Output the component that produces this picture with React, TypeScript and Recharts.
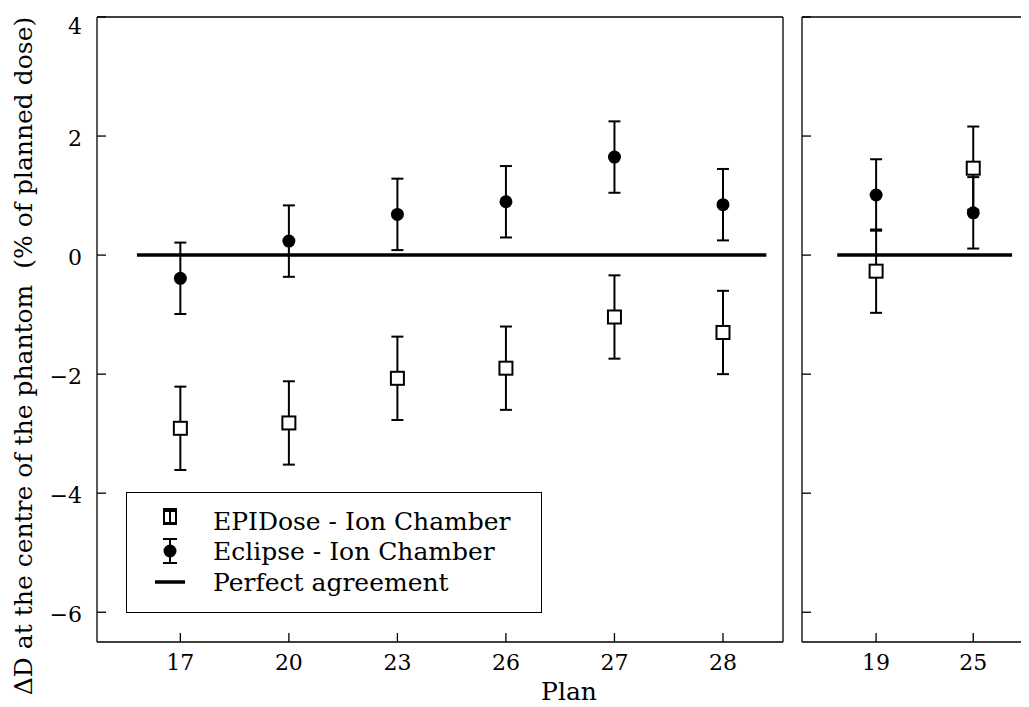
import React from 'react';
import {
  ComposedChart,
  Scatter,
  ErrorBar,
  Line,
  XAxis,
  YAxis,
  ReferenceLine,
  Legend,
  Label,
} from 'recharts';

// ---------- data ----------
const leftPlans = ['17', '20', '23', '26', '27', '28'];
const leftEpidose = [-2.91, -2.82, -2.07, -1.9, -1.04, -1.3];
const leftEpidoseErr = [0.7, 0.7, 0.7, 0.7, 0.7, 0.7];
const leftEclipse = [-0.39, 0.235, 0.684, 0.896, 1.647, 0.847];
const leftEclipseErr = [0.6, 0.6, 0.6, 0.6, 0.6, 0.6];

const rightPlans = ['19', '25'];
const rightEpidose = [-0.27, 1.46];
const rightEpidoseErr = [0.7, 0.7];
const rightEclipse = [1.01, 0.71];
const rightEclipseErr = [0.6, 0.6];

const agreementValue = 0;
const leftAgreementSpan = [-0.4, 5.4];
const rightAgreementSpan = [-0.4, 1.4];

const yTicks = [-6, -4, -2, 0, 2, 4];
const yDomain: [number, number] = [-6.5, 4];
const leftXDomain: [number, number] = [-0.768, 5.553];
const rightXDomain: [number, number] = [-0.763, 1.574];

const legendLabels = ['EPIDose - Ion Chamber', 'Eclipse - Ion Chamber', 'Perfect agreement'];
const yTitle = 'ΔD at the centre of the phantom  (% of planned dose)';
const xTitle = 'Plan';

// ---------- build rows ----------
const rows = (vals: number[], errs: number[]) => vals.map((v, i) => ({ x: i, y: v, err: errs[i] }));
const lineRows = (span: number[]) => span.map((s) => ({ x: s, y: agreementValue }));

const leftEpiRows = rows(leftEpidose, leftEpidoseErr);
const leftEclRows = rows(leftEclipse, leftEclipseErr);
const rightEpiRows = rows(rightEpidose, rightEpidoseErr);
const rightEclRows = rows(rightEclipse, rightEclipseErr);
const leftLine = lineRows(leftAgreementSpan);
const rightLine = lineRows(rightAgreementSpan);

const FONT = "'DejaVu Serif', DejaVuSerif, 'Liberation Serif', serif";
const fmtNum = (v: number) => (v < 0 ? '\u2212' + Math.abs(v) : String(v));

// ---------- shapes ----------
const SquareShape = (p: any) => (
  <rect x={p.cx - 6.5} y={p.cy - 6.5} width={13} height={13} fill="#fff" stroke="#000" strokeWidth={2} />
);
const CircleShape = (p: any) => <circle cx={p.cx} cy={p.cy} r={6.5} fill="#000" />;

// ---------- ticks ----------
const YTickLabeled = (props: any) => {
  const { x, y, payload } = props;
  return (
    <g>
      <line x1={x} x2={x + 9} y1={y} y2={y} stroke="#000" strokeWidth={1.3} />
      <text x={x - 15} y={Math.max(y + 10, 26)} textAnchor="end" fill="#000" style={{ fontSize: 22, fontFamily: FONT }}>
        {fmtNum(payload.value)}
      </text>
    </g>
  );
};
const YTickBare = (props: any) => {
  const { x, y } = props;
  return <line x1={x} x2={x + 9} y1={y} y2={y} stroke="#000" strokeWidth={1.3} />;
};
const makeXTick = (labels: string[]) => (props: any) => {
  const { x, y, payload } = props;
  return (
    <g>
      <line x1={x} x2={x} y1={y} y2={y - 9} stroke="#000" strokeWidth={1.3} />
      <text x={x} y={y + 28} textAnchor="middle" fill="#000" style={{ fontSize: 22, fontFamily: FONT }}>
        {labels[payload.value]}
      </text>
    </g>
  );
};
const LeftXTick = makeXTick(leftPlans);
const RightXTick = makeXTick(rightPlans);

// ---------- titles ----------
const YTitle = (props: any) => {
  const vb = props.viewBox || { x: 0 };
  const x = vb.x + 24;
  const y = 348;
  return (
    <text
      x={x}
      y={y}
      transform={`rotate(-90, ${x}, ${y})`}
      textAnchor="middle"
      fill="#000"
      style={{ whiteSpace: 'pre', fontSize: 25, fontFamily: FONT }}
    >
      {yTitle}
    </text>
  );
};
const XTitle = () => (
  <text x={561} y={692} textAnchor="middle" fill="#000" style={{ fontSize: 25, fontFamily: FONT }}>
    {xTitle}
  </text>
);

// ---------- legend ----------
const renderLegend = () => (
  <svg width={416} height={121} style={{ display: 'block', fontFamily: FONT, fontSize: 25 }}>
    <rect x={0.5} y={0.5} width={415} height={120} fill="#fff" stroke="#000" strokeWidth={1} />
    {/* EPIDose symbol */}
    <line x1={44} x2={44} y1={17} y2={32} stroke="#000" strokeWidth={2} />
    <line x1={37} x2={51} y1={17} y2={17} stroke="#000" strokeWidth={2} />
    <line x1={37} x2={51} y1={32} y2={32} stroke="#000" strokeWidth={2} />
    <rect x={38} y={19} width={12} height={12} fill="none" stroke="#000" strokeWidth={2} />
    {/* Eclipse symbol */}
    <line x1={44} x2={44} y1={47} y2={71} stroke="#000" strokeWidth={2} />
    <line x1={37} x2={51} y1={47} y2={47} stroke="#000" strokeWidth={2} />
    <line x1={37} x2={51} y1={71} y2={71} stroke="#000" strokeWidth={2} />
    <circle cx={44} cy={59} r={6.5} fill="#000" />
    {/* agreement */}
    <line x1={29} x2={59} y1={90} y2={90} stroke="#000" strokeWidth={3.5} />
    <text x={87} y={38} fill="#000">{legendLabels[0]}</text>
    <text x={87} y={68} fill="#000">{legendLabels[1]}</text>
    <text x={87} y={99} fill="#000">{legendLabels[2]}</text>
  </svg>
);

export default function App() {
  return (
    <div style={{ position: 'relative', width: 1021, height: 698, overflow: 'hidden', background: '#fff', fontFamily: FONT }}>
      <div style={{ position: 'absolute', left: 0, top: 0 }}>
        <ComposedChart width={790} height={698} margin={{ top: 9, right: 15, bottom: 0, left: 0 }}>
          <XAxis
            type="number"
            dataKey="x"
            domain={leftXDomain}
            allowDataOverflow
            ticks={[0, 1, 2, 3, 4, 5]}
            interval={0}
            height={64}
            tickSize={0}
            tickMargin={0}
            tickLine={false}
            axisLine={{ stroke: '#000', strokeWidth: 1.3 }}
            tick={LeftXTick}
          >
            <Label content={XTitle} />
          </XAxis>
          <YAxis
            type="number"
            domain={yDomain}
            allowDataOverflow
            ticks={yTicks}
            interval={0}
            width={89}
            tickSize={0}
            tickMargin={0}
            tickLine={false}
            axisLine={{ stroke: '#000', strokeWidth: 1.3 }}
            tick={YTickLabeled}
          >
            <Label content={YTitle} />
          </YAxis>
          <ReferenceLine y={yDomain[1]} stroke="#000" strokeWidth={1.3} />
          <ReferenceLine x={leftXDomain[1]} stroke="#000" strokeWidth={1.3} />
          <Line
            data={leftLine}
            dataKey="y"
            type="linear"
            stroke="#000"
            strokeWidth={3.5}
            dot={false}
            activeDot={false}
            isAnimationActive={false}
          />
          <Scatter data={leftEpiRows} dataKey="y" shape={SquareShape} isAnimationActive={false}>
            <ErrorBar dataKey="err" direction="y" width={6} stroke="#000" strokeWidth={2} isAnimationActive={false} />
          </Scatter>
          <Scatter data={leftEclRows} dataKey="y" shape={CircleShape} isAnimationActive={false}>
            <ErrorBar dataKey="err" direction="y" width={6} stroke="#000" strokeWidth={2} isAnimationActive={false} />
          </Scatter>
          <Legend
            content={renderLegend}
            layout="horizontal"
            verticalAlign="middle"
            align="center"
            wrapperStyle={{ position: 'absolute', left: 118, top: 484, width: 416, height: 121 }}
          />
        </ComposedChart>
      </div>
      <div style={{ position: 'absolute', left: 790, top: 0 }}>
        <ComposedChart width={231} height={698} margin={{ top: 9, right: 0, bottom: 0, left: 0 }}>
          <XAxis
            type="number"
            dataKey="x"
            domain={rightXDomain}
            allowDataOverflow
            ticks={[0, 1]}
            interval={0}
            height={64}
            tickSize={0}
            tickMargin={0}
            tickLine={false}
            axisLine={{ stroke: '#000', strokeWidth: 1.3 }}
            tick={RightXTick}
          />
          <YAxis
            type="number"
            domain={yDomain}
            allowDataOverflow
            ticks={yTicks}
            interval={0}
            width={4}
            tickSize={0}
            tickMargin={0}
            tickLine={false}
            axisLine={{ stroke: '#000', strokeWidth: 1.3 }}
            tick={YTickBare}
          />
          <ReferenceLine y={yDomain[1]} stroke="#000" strokeWidth={1.3} />
          <Line
            data={rightLine}
            dataKey="y"
            type="linear"
            stroke="#000"
            strokeWidth={3.5}
            dot={false}
            activeDot={false}
            isAnimationActive={false}
          />
          <Scatter data={rightEpiRows} dataKey="y" shape={SquareShape} isAnimationActive={false}>
            <ErrorBar dataKey="err" direction="y" width={6} stroke="#000" strokeWidth={2} isAnimationActive={false} />
          </Scatter>
          <Scatter data={rightEclRows} dataKey="y" shape={CircleShape} isAnimationActive={false}>
            <ErrorBar dataKey="err" direction="y" width={6} stroke="#000" strokeWidth={2} isAnimationActive={false} />
          </Scatter>
        </ComposedChart>
      </div>
    </div>
  );
}
